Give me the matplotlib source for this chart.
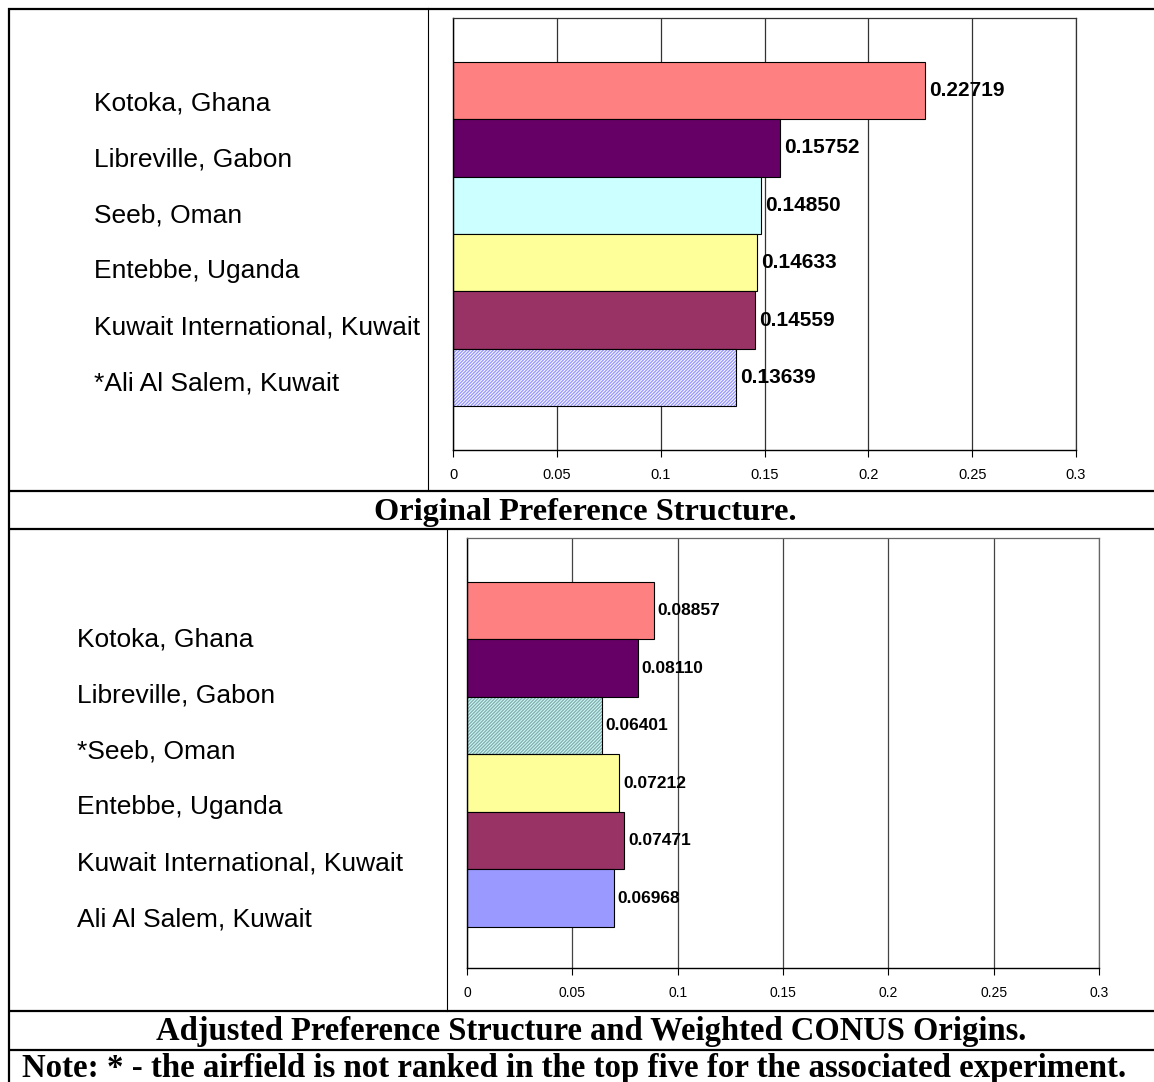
import matplotlib
matplotlib.use("Agg")
import matplotlib.pyplot as plt
from matplotlib import font_manager as fm

# ---------------- data ----------------
airports_top = ["Kotoka, Ghana", "Libreville, Gabon", "Seeb, Oman", "Entebbe, Uganda",
                "Kuwait International, Kuwait", "*Ali Al Salem, Kuwait"]
values_top = [0.22719, 0.15752, 0.14850, 0.14633, 0.14559, 0.13639]

airports_bottom = ["Kotoka, Ghana", "Libreville, Gabon", "*Seeb, Oman", "Entebbe, Uganda",
                   "Kuwait International, Kuwait", "Ali Al Salem, Kuwait"]
values_bottom = [0.08857, 0.08110, 0.06401, 0.07212, 0.07471, 0.06968]

bar_colors = ["#FF8080", "#660066", "#CCFFFF", "#FFFF99", "#993366", "#9999FF"]
x_ticks = [0, 0.05, 0.1, 0.15, 0.2, 0.25, 0.3]
x_tick_labels = ["0", "0.05", "0.1", "0.15", "0.2", "0.25", "0.3"]

caption_top = "Original Preference Structure."
caption_bottom = "Adjusted Preference Structure and Weighted CONUS Origins."
note_text = "Note: * - the airfield is not ranked in the top five for the associated experiment."

# ---------------- fonts ----------------
names = {f.name for f in fm.fontManager.ttflist}
if "Liberation Sans Narrow" in names:
    NARROW = "Liberation Sans Narrow"
    val_fs_top, val_fs_bot, tick_fs_top, tick_fs_bot = 17.5, 15.5, 12, 11
else:
    NARROW = "Liberation Sans"
    val_fs_top, val_fs_bot, tick_fs_top, tick_fs_bot = 15, 12.5, 10.5, 10
SANS = "Liberation Sans"
SERIF = "Liberation Serif"

plt.rcParams["hatch.linewidth"] = 1.0

W, H = 1154, 1082
fig = plt.figure(figsize=(W / 100, H / 100), dpi=100)

# overlay axes in pixel coordinates for table lines and texts
ov = fig.add_axes([0, 0, 1, 1], zorder=-1)
ov.set_xlim(0, W)
ov.set_ylim(H, 0)
ov.axis("off")


def px_axes(left, top, right, bottom):
    return fig.add_axes([left / W, 1 - bottom / H, (right - left) / W, (bottom - top) / H])


def draw_panel(ax, values, hatch_idx, hatch_face, hatch_col, frame_col, grid_col, val_fs,
               tick_fs, ylim):
    ys = list(range(len(values)))
    for i, (y, v) in enumerate(zip(ys, values)):
        if i == hatch_idx:
            ax.barh(y, v, height=1.0, color=hatch_face, edgecolor=hatch_col, linewidth=0,
                    hatch="//////////", zorder=2)
            ax.barh(y, v, height=1.0, fill=False, edgecolor="black", linewidth=0.8, zorder=3)
        else:
            ax.barh(y, v, height=1.0, color=bar_colors[i], edgecolor="black", linewidth=0.8,
                    zorder=2)
        ax.annotate(f"{v:.5f}", xy=(v, y), xytext=(4, 0), textcoords="offset pixels",
                    ha="left", va="center", fontsize=val_fs, fontweight="bold",
                    family=NARROW, zorder=4)
    ax.set_xlim(0, 0.3)
    ax.set_ylim(*ylim)
    ax.set_xticks(x_ticks)
    ax.set_xticklabels(x_tick_labels, family=NARROW, fontsize=tick_fs)
    ax.tick_params(axis="x", direction="out", length=5, width=0.8, pad=8, colors="black")
    ax.tick_params(axis="y", left=False, labelleft=False)
    ax.grid(axis="x", color=grid_col, linewidth=0.9)
    ax.grid(axis="y", visible=False)
    ax.set_axisbelow(True)
    ax.spines["left"].set_color("black")
    ax.spines["bottom"].set_color("black")
    ax.spines["left"].set_linewidth(1.0)
    ax.spines["bottom"].set_linewidth(1.0)
    for s in ("top", "right"):
        ax.spines[s].set_color(frame_col)
        ax.spines[s].set_linewidth(0.9)


# top chart
ax1 = px_axes(453, 18, 1076, 450)
draw_panel(ax1, values_top, 5, "white", "#9999FF", "#333333", "#333333", val_fs_top,
           tick_fs_top, (6.267, -1.267))

# bottom chart
ax2 = px_axes(467, 538, 1099, 968)
draw_panel(ax2, values_bottom, 2, "#CCFFFF", "#8AAEAE", "#666666", "#444444", val_fs_bot,
           tick_fs_bot, (6.213, -1.265))

# category labels (left column)
for i, name in enumerate(airports_top):
    ov.text(94, 110 + 56 * i, name, ha="left", va="baseline", fontsize=19, family=SANS)
for i, name in enumerate(airports_bottom):
    ov.text(77, 646 + 56 * i, name, ha="left", va="baseline", fontsize=19, family=SANS)

# table lines
lw_thick = 1.6
lw_thin = 0.8
for y in (8.5, 490.5, 529, 1011, 1050):
    ov.plot([8, W], [y, y], color="black", lw=lw_thick, solid_capstyle="butt")
ov.plot([9, 9], [8, H], color="black", lw=lw_thick, solid_capstyle="butt")
ov.plot([428, 428], [8, 490], color="black", lw=lw_thin)
ov.plot([446.5, 446.5], [529, 1011], color="black", lw=lw_thin)

# captions
ov.text(585.5, 520, caption_top, ha="center", va="baseline", fontsize=23.3,
        fontweight="bold", family=SERIF)
ov.text(591.5, 1040, caption_bottom, ha="center", va="baseline", fontsize=23.5,
        fontweight="bold", family=SERIF)
ov.text(574.5, 1077, note_text, ha="center", va="baseline", fontsize=23.7,
        fontweight="bold", family=SERIF)

fig.savefig("out.png", dpi=100)
